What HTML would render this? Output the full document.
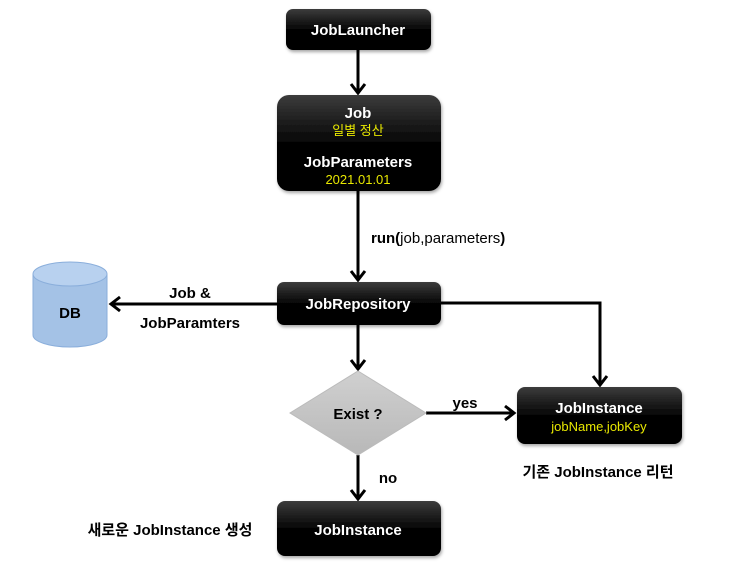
<!DOCTYPE html>
<html><head><meta charset="utf-8"><style>
html,body{margin:0;padding:0;background:#fff;}
svg{display:block;}
text{font-family:"Liberation Sans","Noto Sans CJK KR",sans-serif;}
</style></head><body>
<svg width="735" height="581" viewBox="0 0 735 581" xmlns="http://www.w3.org/2000/svg">
<defs>
<linearGradient id="g" x1="0" y1="0" x2="0" y2="1">
<stop offset="0" stop-color="#3c3c3c"/><stop offset="0.5" stop-color="#050505"/><stop offset="1" stop-color="#000"/>
</linearGradient>
<linearGradient id="d" x1="0" y1="0" x2="0" y2="1">
<stop offset="0" stop-color="#d0d0d0"/><stop offset="1" stop-color="#b8b8b8"/>
</linearGradient>
<filter id="s" x="-10%" y="-10%" width="130%" height="140%"><feDropShadow dx="1" dy="2" stdDeviation="1.5" flood-color="#000" flood-opacity="0.35"/></filter>
</defs>
<g stroke="#000" stroke-width="3" fill="none">
<line x1="358" y1="50" x2="358" y2="93"/>
<line x1="358" y1="191" x2="358" y2="280"/>
<line x1="358" y1="325" x2="358" y2="369"/>
<line x1="358" y1="455" x2="358" y2="499"/>
<polyline points="441,303 600,303 600,385"/>
<line x1="426" y1="413" x2="514" y2="413"/>
<line x1="277" y1="304" x2="111" y2="304"/>
</g>
<g stroke="#000" stroke-width="3" fill="none" stroke-linejoin="miter">
<polyline points="351,84 358,93 365,84"/>
<polyline points="351,271 358,280 365,271"/>
<polyline points="351,360 358,369 365,360"/>
<polyline points="351,490 358,499 365,490"/>
<polyline points="593,376 600,385 607,376"/>
<polyline points="505,406 514,413 505,420"/>
<polyline points="120,297 111,304 120,311"/>
</g>
<g filter="url(#s)" fill="url(#g)">
<rect x="286" y="9" width="145" height="41" rx="7"/>
<rect x="277" y="95" width="164" height="96" rx="12"/>
<rect x="277" y="282" width="164" height="43" rx="7"/>
<rect x="517" y="387" width="165" height="57" rx="8"/>
<rect x="277" y="501" width="164" height="55" rx="8"/>
</g>
<polygon points="358,371 426,413 358,455 290,413" fill="url(#d)" stroke="#bbb"/>
<path d="M33,274 L33,335 A37,12 0 0 0 107,335 L107,274 Z" fill="#a4c2e6" stroke="#8aaedb"/>
<ellipse cx="70" cy="274" rx="37" ry="12" fill="#b8d1ef" stroke="#8aaedb"/>
<g font-weight="bold" font-size="15" fill="#fff" text-anchor="middle">
<text x="358" y="35">JobLauncher</text>
<text x="358" y="118">Job</text>
<text x="358" y="167">JobParameters</text>
<text x="358" y="309">JobRepository</text>
<text x="599" y="413">JobInstance</text>
<text x="358" y="535">JobInstance</text>
</g>
<g font-size="13" fill="#e8e800" text-anchor="middle">
<text x="358" y="135">일별 정산</text>
<text x="358" y="184">2021.01.01</text>
<text x="599" y="431">jobName,jobKey</text>
</g>
<g font-weight="bold" font-size="15" fill="#000" text-anchor="middle">
<text x="70" y="318">DB</text>
<text x="358" y="419">Exist ?</text>
<text x="190" y="298">Job &amp;</text>
<text x="190" y="328">JobParamters</text>
<text x="465" y="408">yes</text>
<text x="388" y="483">no</text>
<text x="598" y="477">기존 JobInstance 리턴</text>
<text x="170" y="535">새로운 JobInstance 생성</text>
</g>
<text x="371" y="243" font-size="15" fill="#000"><tspan font-weight="bold">run(</tspan>job,parameters<tspan font-weight="bold">)</tspan></text>
</svg>
</body></html>
